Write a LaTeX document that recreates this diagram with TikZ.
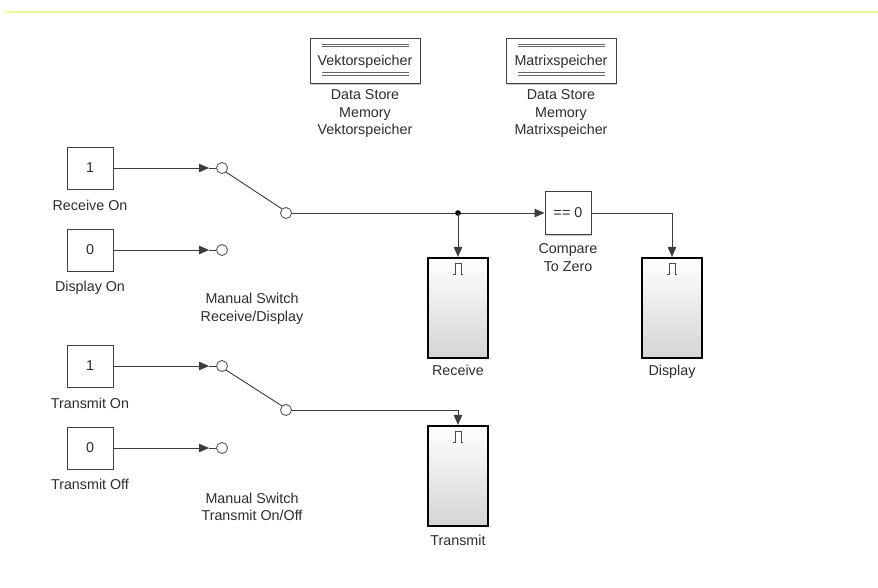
\documentclass[tikz,border=0pt]{standalone}
\usepackage{fontspec}
\setmainfont{Liberation Sans}
\usetikzlibrary{arrows.meta,shadows}
\definecolor{txt}{RGB}{45,45,45}
\definecolor{wire}{RGB}{60,60,60}
\definecolor{topline}{RGB}{240,245,150}
\newcommand{\lblfont}{\fontsize{14.3}{17.5}\selectfont}
\begin{document}
\begin{tikzpicture}[x=1pt,y=-1pt,
  lbl/.style={font=\lblfont, text=txt, align=center, inner sep=0pt},
  lblone/.style={font=\lblfont, text=txt, inner sep=0pt, text height=13pt, text depth=3pt},
  constbox/.style={draw=black!75, line width=1pt, fill=white, minimum width=46pt, minimum height=42pt, inner sep=0pt, font=\lblfont, text=txt,
    drop shadow={shadow xshift=1.3pt, shadow yshift=-1.3pt, fill=black!35, opacity=0.6}},
  swc/.style={circle, draw=black!65, fill=white, minimum size=11pt, inner sep=0pt, line width=0.9pt},
  scopebox/.style={draw=black, line width=2.2pt, minimum width=60pt, minimum height=100pt, inner sep=0pt,
    top color=white, middle color=black!4, bottom color=black!17},
  dsbox/.style={draw=black!75, line width=1pt, fill=white, minimum width=110pt, minimum height=45pt, inner sep=0pt,
    drop shadow={shadow xshift=1.3pt, shadow yshift=-1.3pt, fill=black!35, opacity=0.6}},
  sig/.style={draw=wire, line width=0.9pt},
  arr/.style={-{Triangle[length=10pt,width=8.5pt]}}
]
\useasboundingbox (0,0) rectangle (878,587);
\fill[white] (0,0) rectangle (878,587);
\draw[topline, line width=2.5pt] (5,12) -- (878,12);

% data store memories
\node[dsbox] (dsv) at (365,61) {};
\node[dsbox] (dsm) at (561,61) {};
\foreach \n in {dsv,dsm}{
  \draw[black!60, line width=0.8pt] ([xshift=12pt,yshift=-6pt]\n.north west) -- ([xshift=-12pt,yshift=-6pt]\n.north east);
  \draw[black!60, line width=0.8pt] ([xshift=12pt,yshift=-8.5pt]\n.north west) -- ([xshift=-12pt,yshift=-8.5pt]\n.north east);
  \draw[black!60, line width=0.8pt] ([xshift=12pt,yshift=9pt]\n.south west) -- ([xshift=-12pt,yshift=9pt]\n.south east);
  \draw[black!60, line width=0.8pt] ([xshift=12pt,yshift=11.5pt]\n.south west) -- ([xshift=-12pt,yshift=11.5pt]\n.south east);
}
\node[lblone] (dsvt) at (365,60) {Vektorspeicher};
\node[lblone] (dsmt) at (561,60) {Matrixspeicher};
\node[lbl] (dsvl) at (365,113.5) {Data Store\\Memory\\Vektorspeicher};
\node[lbl] (dsml) at (561,113.5) {Data Store\\Memory\\Matrixspeicher};

% constants
\node[constbox] (c1) at (90,168) {1};
\node[lblone] (c1l) at (90,205) {Receive On};
\node[constbox] (c2) at (90,250) {0};
\node[lblone] (c2l) at (90,286) {Display On};
\node[constbox] (c3) at (90,366) {1};
\node[lblone] (c3l) at (90,403) {Transmit On};
\node[constbox] (c4) at (90,448) {0};
\node[lblone] (c4l) at (90,484) {Transmit Off};

% switch receive/display
\coordinate (p1a) at (209,168);
\coordinate (p1b) at (209,250);
\node[swc] (s1a) at (222,168) {};
\node[swc] (s1b) at (222,250) {};
\node[swc] (s1o) at (286,213) {};
\draw[sig,arr] (c1.east) -- (p1a);
\draw[sig] (p1a) -- (s1a.west);
\draw[sig,arr] (c2.east) -- (p1b);
\draw[sig] (p1b) -- (s1b.west);
\draw[sig] (s1a.south east) -- (s1o.north west);
\node[lbl] (sw1l) at (252,309) {Manual Switch\\Receive/Display};

% switch transmit
\coordinate (p2a) at (209,366);
\coordinate (p2b) at (209,448);
\node[swc] (s2a) at (222,366) {};
\node[swc] (s2b) at (222,448) {};
\node[swc] (s2o) at (286,410) {};
\draw[sig,arr] (c3.east) -- (p2a);
\draw[sig] (p2a) -- (s2a.west);
\draw[sig,arr] (c4.east) -- (p2b);
\draw[sig] (p2b) -- (s2b.west);
\draw[sig] (s2a.south east) -- (s2o.north west);
\node[lbl] (sw2l) at (252,507) {Manual Switch\\Transmit On/Off};

% compare to zero
\node[constbox, minimum height=43pt] (cmp) at (568,213) {== 0};
\node[lbl] (cmpl) at (568,257.5) {Compare\\To Zero};

% scopes
\node[scopebox] (scR) at (458,308) {};
\node[lblone] (scRl) at (458,370) {Receive};
\node[scopebox] (scD) at (672,308) {};
\node[lblone] (scDl) at (672,370) {Display};
\node[scopebox] (scT) at (458,476) {};
\node[lblone] (scTl) at (458,540) {Transmit};
\foreach \n in {scR,scD,scT}{
  \draw[black!70, line width=0.9pt] ([shift={(-5pt,-18pt)}]\n.north) -- ++(2,0) -- ++(0,-11) -- ++(6,0) -- ++(0,11) -- ++(2,0);
}

% signals
\coordinate (j1) at (458,213);
\draw[sig,arr] (s1o.east) -- (cmp.west);
\fill[black] (j1) circle (2.8pt);
\draw[sig,arr] (j1) -- (scR.north);
\draw[sig,arr] (cmp.east) -| (scD.north);
\draw[sig,arr] (s2o.east) -| (scT.north);
\end{tikzpicture}
\end{document}
